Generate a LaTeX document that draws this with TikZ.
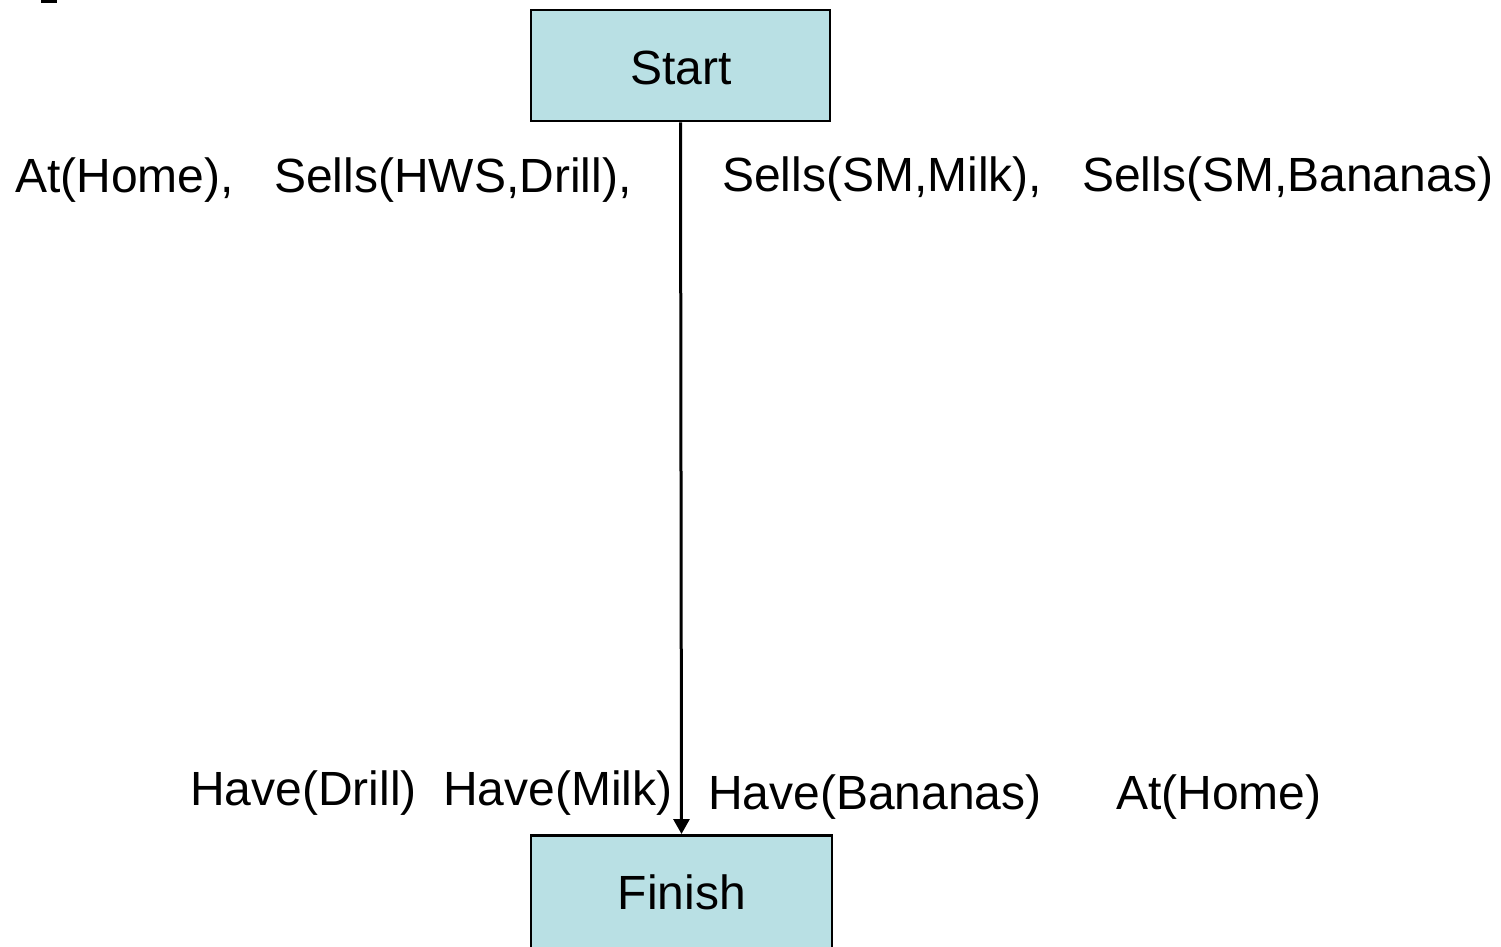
\documentclass[tikz,border=0pt]{standalone}
\usepackage{fontspec}
\setmainfont{Liberation Sans}
\usetikzlibrary{arrows.meta}
\definecolor{boxfill}{HTML}{B9E0E4}
\begin{document}
\begin{tikzpicture}[x=1pt,y=-1pt,
  every node/.style={font=\fontsize{48}{57}\selectfont, inner sep=0pt},
  stepbox/.style={draw=black, line width=2.5pt, fill=boxfill, rectangle},
  cond/.style={anchor=base west},
  link/.style={line width=3pt, -{Triangle[length=15pt,width=16pt]}}]
\useasboundingbox (0,0) rectangle (1501,946);
\clip (0,0) rectangle (1501,946);

% small mark at the top edge
\fill[black] (41,0) rectangle (57,2.5);

% action boxes
\node[stepbox, minimum width=299pt, minimum height=111pt] (start) at (680.5,65.5) {};
\node[anchor=base] (starttxt) at (681,84) {Start};
\node[stepbox, minimum width=301pt, minimum height=150pt, anchor=north] (finish) at (681.5,834) {};
\node[anchor=base] (finishtxt) at (682,909) {Finish};

% initial state
\node[cond] (c1) at (15,192) {At(Home),};
\node[cond] (c2) at (274,192) {Sells(HWS,Drill),};
\node[cond] (c3) at (722,191) {Sells(SM,Milk),};
\node[cond] (c4) at (1082,191) {Sells(SM,Bananas)};

% goal conditions
\node[cond] (g1) at (190,805) {Have(Drill)};
\node[cond] (g2) at (443,805) {Have(Milk)};
\node[cond] (g3) at (708,809) {Have(Bananas)};
\node[cond] (g4) at (1116,809) {At(Home)};

% ordering link
\draw[link] (start.south) -- (finish.north);
\end{tikzpicture}
\end{document}
